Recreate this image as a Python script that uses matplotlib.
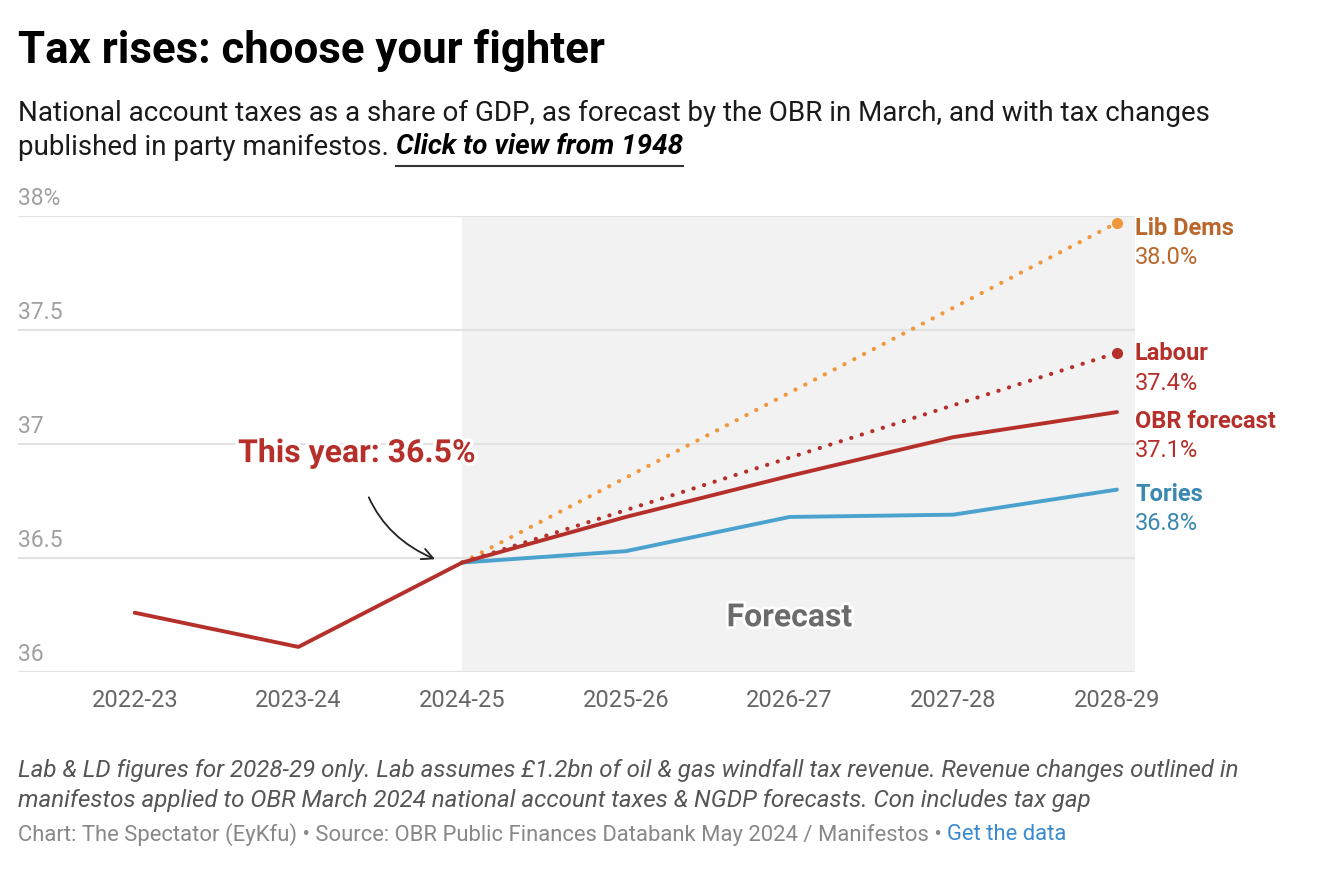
import matplotlib.pyplot as plt
import matplotlib.patheffects as pe
from matplotlib.lines import Line2D

plt.rcParams['font.family'] = ['Roboto', 'DejaVu Sans']

# Data (tax as % of GDP)
years = ["2022-23", "2023-24", "2024-25", "2025-26", "2026-27", "2027-28", "2028-29"]
obr = [36.26, 36.11, 36.48, 36.68, 36.86, 37.03, 37.14]
tories = [36.48, 36.53, 36.68, 36.69, 36.80]
labour = [36.48, 37.40]
libdems = [36.48, 37.97]

x = list(range(len(years)))
x_fc = x[2:]
x_party = [2, 6]

c_obr = "#b5302b"
c_tory = "#4ba2cf"
c_tory_txt = "#3a88b0"
c_ld = "#f0963b"
c_ld_txt = "#b9672a"

fig = plt.figure(figsize=(13.3, 8.92), dpi=100)
W, H = 1330, 892
ax = fig.add_axes([18 / W, 1 - 672 / H, (1135 - 18) / W, (672 - 216) / H])

xl = -0.713
xr = 6.11
ax.set_xlim(xl, xr)
ax.set_ylim(36, 38)

# forecast shading
ax.axvspan(2, xr, color="#f2f2f2", zorder=0, lw=0)
for y in [36, 36.5, 37, 37.5, 38]:
    ax.axhline(y, color="#e2e2e2", lw=1.5, zorder=0.5)
    lab = "38%" if y == 38 else ("%g" % y)
    ax.text(xl, y + 0.025, lab, ha="left", va="bottom", fontsize=16.5, color="#a0a0a0")

for s in ax.spines.values():
    s.set_visible(False)
ax.set_yticks([])
ax.set_xticks(x)
ax.set_xticklabels(years, fontsize=17, color="#666666")
ax.tick_params(axis="x", length=0, pad=12)

# lines
dots = (0, (0.05, 2.6))
ax.plot(x_party, libdems, color=c_ld, lw=3, linestyle=dots,
        dash_capstyle="round", marker="o", markevery=[-1], ms=7, zorder=3)
ax.plot(x_party, labour, color=c_obr, lw=3, linestyle=dots,
        dash_capstyle="round", marker="o", markevery=[-1], ms=7, zorder=3)
ax.plot(x_fc, tories, color=c_tory, lw=2.8, zorder=4, solid_capstyle="round")
ax.plot(x, obr, color=c_obr, lw=2.8, zorder=5, solid_capstyle="round")

# end labels
def end_label(ypix, name, val, col):
    fig.text(1135 / W, 1 - ypix / H, name, fontsize=17, fontweight="bold",
             color=col, ha="left", va="center")
    fig.text(1135 / W, 1 - (ypix + 29) / H, "%.1f%%" % val, fontsize=17,
             color=col, ha="left", va="center")

end_label(228, "Lib Dems", libdems[-1], c_ld_txt)
end_label(354, "Labour", labour[-1], c_obr)
end_label(422, "OBR forecast", obr[-1], c_obr)
end_label(494, "Tories", tories[-1], c_tory_txt)

# annotation
ax.annotate("This year: %.1f%%" % obr[2], xy=(1.85, 36.49), xytext=(1.36, 36.96),
            fontsize=23, fontweight="bold", color=c_obr, ha="center", va="center",
            path_effects=[pe.withStroke(linewidth=5, foreground="white")],
            arrowprops=dict(arrowstyle="->", color="#222222", lw=1.3,
                            connectionstyle="arc3,rad=0.3", shrinkA=20, shrinkB=2,
                            mutation_scale=20))

ax.text(4, 36.24, "Forecast", fontsize=23, fontweight="bold", color="#6b6b6b",
        ha="center", va="center",
        path_effects=[pe.withStroke(linewidth=4, foreground="white")])

# titles
fig.text(18 / W, 1 - 51 / H, "Tax rises: choose your fighter", fontsize=31.5,
         fontweight="bold", color="#000000", ha="left", va="center")
fig.text(18 / W, 1 - 113 / H,
         "National account taxes as a share of GDP, as forecast by the OBR in March, and with tax changes",
         fontsize=20, color="#1a1a1a", ha="left", va="center")
sub2 = fig.text(18 / W, 1 - 147 / H, "published in party manifestos. ", fontsize=20,
                color="#1a1a1a", ha="left", va="center")

fig.canvas.draw()
r = fig.canvas.get_renderer()
bb = sub2.get_window_extent(r)
link = fig.text(bb.x1 / W, 1 - 147 / H, "Click to view from 1948", fontsize=20,
                color="#000000", fontweight="bold", style="italic", ha="left", va="center")
lb = link.get_window_extent(r)
fig.add_artist(Line2D([lb.x0 / W, lb.x1 / W], [1 - 166 / H, 1 - 166 / H],
                      color="#333333", lw=1.5, transform=fig.transFigure))

# notes
fig.text(18 / W, 1 - 770 / H,
         "Lab & LD figures for 2028-29 only. Lab assumes £1.2bn of oil & gas windfall tax revenue. Revenue changes outlined in",
         fontsize=17.4, style="italic", color="#555555", ha="left", va="center")
fig.text(18 / W, 1 - 800 / H,
         "manifestos applied to OBR March 2024 national account taxes & NGDP forecasts. Con includes tax gap",
         fontsize=17.4, style="italic", color="#555555", ha="left", va="center")
src = fig.text(18 / W, 1 - 835 / H,
               "Chart: The Spectator (EyKfu) • Source: OBR Public Finances Databank May 2024 / Manifestos • ",
               fontsize=15.8, color="#888888", ha="left", va="center")
sb = src.get_window_extent(r)
fig.text(sb.x1 / W, 1 - 835 / H, "Get the data", fontsize=15.8, color="#3a8ad0",
         ha="left", va="center")

fig.savefig("out.png", dpi=100)
